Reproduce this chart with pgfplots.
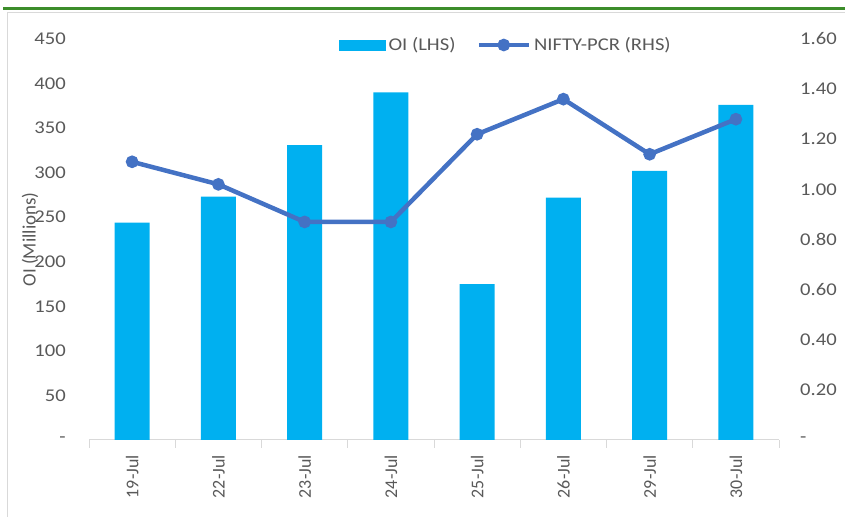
\documentclass[border=0pt]{standalone}
\usepackage{pgfplots}
\pgfplotsset{compat=1.18}
\usepackage{fontspec}
\setmainfont{Carlito}
\definecolor{barblue}{HTML}{00B0F0}
\definecolor{lineblue}{HTML}{4472C4}
\definecolor{textgray}{HTML}{595959}
\definecolor{axisgray}{HTML}{D9D9D9}
\definecolor{framegreen}{HTML}{3C8D2A}
\newcommand{\tickfont}{\fontsize{18}{20}\selectfont}
\begin{document}
\begin{tikzpicture}[x=1bp,y=1bp]
\path[use as bounding box] (0,0) rectangle (845,517);
\draw[framegreen, line width=2.5bp] (3,508.5) -- (845,508.5);
\draw[axisgray, line width=1bp] (7,0) -- (7,504.5) -- (845,504.5);
\begin{axis}[
  at={(89bp,77bp)}, anchor=south west, scale only axis,
  width=690bp, height=401bp,
  xmin=-0.5, xmax=7.5, ymin=0, ymax=450,
  axis x line*=bottom, axis y line*=left,
  y axis line style={draw=none},
  x axis line style={-, draw=axisgray, line width=1bp},
  xtick={0,...,7},
  xticklabels={19-Jul,22-Jul,23-Jul,24-Jul,25-Jul,26-Jul,29-Jul,30-Jul},
  major tick length=0pt,
  minor xtick={-0.5,0.5,...,7.5},
  minor x tick style={draw=axisgray, line width=1bp},
  minor tick length=8bp, tick align=outside,
  ytick={0,50,...,450},
  yticklabels={-,50,100,150,200,250,300,350,400,450},
  major y tick style={draw=none},
  ticklabel style={font=\tickfont, text=textgray},
  yticklabel style={inner sep=0pt, anchor=east, xscale=1.15},
  yticklabel shift=23bp,
  xticklabel style={rotate=90, anchor=east, inner sep=0pt},
  xticklabel shift=15bp,
  ylabel={OI (Millions)},
  ylabel style={at={(axis description cs:-0.0855,0.5)}, anchor=center, font=\fontsize{19}{21}\selectfont, text=textgray},
]
\addplot[ybar, bar width=35bp, bar shift=0pt, fill=barblue, draw=none]
  coordinates {(0,244) (1,273) (2,331) (3,390) (4,175) (5,272) (6,302) (7,376)};
\end{axis}
\begin{axis}[
  at={(89bp,77bp)}, anchor=south west, scale only axis,
  width=690bp, height=401bp,
  xmin=-0.5, xmax=7.5, ymin=0, ymax=1.6,
  axis x line=none, axis y line*=right,
  y axis line style={draw=none},
  major tick length=0pt,
  major y tick style={draw=none},
  ytick={0,0.2,0.4,0.6,0.8,1.0,1.2,1.4,1.6},
  yticklabels={-,0.20,0.40,0.60,0.80,1.00,1.20,1.40,1.60},
  ticklabel style={font=\tickfont, text=textgray},
  yticklabel style={inner sep=0pt, anchor=west, xscale=1.15},
  yticklabel shift=21bp,
  legend columns=2,
  legend style={draw=none, fill=none, font=\tickfont, text=textgray,
    at={(axis description cs:0.605,0.985)}, anchor=center,
    nodes={inner xsep=3bp},
    /tikz/every even column/.append style={column sep=18bp}},
]
\addlegendimage{legend image code/.code={\fill[barblue] (0bp,-5bp) rectangle (46bp,5bp);}}
\addlegendentry{\scalebox{1.15}[1]{OI (LHS)}}
\addplot[line width=4.5bp, color=lineblue, mark=*, mark size=4bp,
  legend image code/.code={\draw[line width=4.5bp, color=lineblue] (0bp,0bp) -- (50bp,0bp); \fill[lineblue] (25bp,0bp) circle (4bp);}]
  coordinates {(0,1.11) (1,1.02) (2,0.87) (3,0.87) (4,1.22) (5,1.36) (6,1.14) (7,1.28)};
\addlegendentry{\scalebox{1.15}[1]{NIFTY-PCR (RHS)}}
\end{axis}
\end{tikzpicture}
\end{document}
